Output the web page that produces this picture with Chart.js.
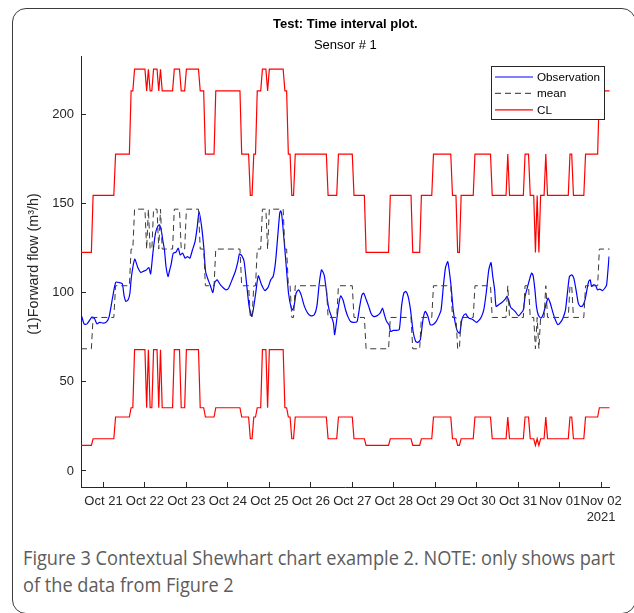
<!DOCTYPE html>
<html>
<head>
<meta charset="utf-8">
<style>
  body { margin:0; background:#fff; width:634px; height:613px; overflow:hidden; position:relative; }
  .frame { position:absolute; left:12px; top:8px; width:624px; height:606px; box-sizing:border-box; border:1px solid #3c3c3c; border-radius:14px; }
  #chart { position:absolute; left:0; top:0; }
  .caption { position:absolute; left:23px; font-family:"Open Sans", sans-serif; font-size:20px; line-height:27px; color:#5c5c5c; white-space:nowrap; transform-origin:0 0; }
</style>
</head>
<body>
<div class="frame"></div>
<canvas id="chart" width="634" height="530"></canvas>
<div class="caption" id="cap1" style="top:544px">Figure 3 Contextual Shewhart chart example 2. NOTE: only shows part</div>
<div class="caption" id="cap2" style="top:571px">of the data from Figure 2</div>

<script src="https://cdn.jsdelivr.net/npm/chart.js"></script>
<script>
    // x values are hours counted from Oct 20 00:00 (2021)
    const firstHour = 11;
    const lastHour = 317;
    const dayHours = [24, 48, 72, 96, 120, 144, 168, 192, 216, 240, 264, 288, 312];
    const dayLabels = ['Oct 21', 'Oct 22', 'Oct 23', 'Oct 24', 'Oct 25', 'Oct 26', 'Oct 27',
                       'Oct 28', 'Oct 29', 'Oct 30', 'Oct 31', 'Nov 01', ['Nov 02', '2021']];
    const yTicks = [0, 50, 100, 150, 200];

    // context levels: mean and control limits for each context
    const meanLevels = [68.6, 86.2, 104, 124.6, 147];
    const uclLevels  = [122.7, 154.7, 177.9, 213.4, 225.6];
    const lclLevels  = [14.4, 18.1, 30.3, 35.5, 68.1];

    // hour at which each context starts, and which context it is
    const ctxStart = [11, 18, 31, 40, 42, 49, 50, 51, 53, 56, 57, 58, 65, 69, 72, 80, 83, 89, 104, 109,
                      111, 113, 116, 119, 120, 129, 131, 133, 135, 154, 160, 169, 176, 190, 203, 208, 215,
                      226, 229, 231, 239, 249, 258, 259, 268, 271, 274, 275, 276, 277, 280, 281, 294, 296,
                      303, 311];
    const ctxLevel = [0, 1, 2, 3, 4, 3, 4, 3, 4, 3, 4, 3, 4, 3, 4, 3, 2, 3, 2, 1,
                      2, 3, 4, 3, 4, 3, 2, 1, 2, 1, 2, 1, 0, 1, 0, 1, 2,
                      1, 0, 1, 2, 1, 2, 1, 2, 1, 0, 1, 0, 1, 2, 1, 2, 1,
                      2, 3];

    // observation
    const obsHours = [11.3, 12.9, 14.5, 17.3, 18.7, 20.2, 21.7, 24.0, 25.9, 27.3, 29.4, 31.1, 33.2, 34.9, 36.0,
        37.0, 38.3, 39.3, 40.2, 42.1, 44.0, 45.6, 46.9, 48.8, 50.3, 51.3, 52.6, 54.1, 55.5, 56.4, 57.4, 58.3,
        59.3, 60.2, 61.4, 62.1, 63.1, 64.4, 65.9, 67.3, 68.4, 69.8, 71.3, 72.6, 74.0, 75.5, 77.0, 78.3, 79.3,
        80.8, 82.2, 83.1, 84.6, 86.0, 87.3, 88.4, 89.8, 91.7, 93.6, 94.9, 96.4, 98.4, 100.3, 101.8, 102.7,
        104.1, 105.4, 107.0, 108.3, 109.8, 110.7, 112.1, 113.6, 115.5, 117.4, 119.3, 120.8, 122.2, 123.5,
        124.7, 126.0, 126.6, 127.3, 128.5, 129.8, 131.1, 132.7, 133.6, 134.6, 135.5, 136.9, 138.4, 140.3,
        142.2, 144.1, 146.0, 147.5, 148.9, 150.2, 151.7, 152.7, 153.6, 154.6, 155.9, 157.1, 157.8, 159.0,
        160.3, 161.3, 162.6, 164.1, 165.4, 167.0, 168.9, 170.8, 172.3, 173.6, 174.6, 176.1, 177.5, 178.8,
        180.3, 182.2, 184.1, 185.5, 186.6, 187.9, 189.3, 190.2, 191.7, 193.3, 195.2, 196.5, 197.8, 199.0,
        200.3, 201.7, 203.2, 204.7, 206.0, 207.4, 208.9, 210.2, 211.8, 213.1, 214.6, 216.5, 218.0, 219.4,
        220.7, 221.9, 223.2, 223.8, 225.1, 226.4, 227.6, 228.9, 230.2, 231.4, 232.7, 233.7, 234.6, 235.6,
        237.1, 238.4, 239.8, 241.3, 242.8, 244.1, 245.5, 247.0, 248.3, 249.3, 250.4, 251.2, 252.7, 254.6,
        256.5, 257.5, 258.4, 259.6, 260.7, 262.2, 264.2, 265.7, 267.0, 268.0, 269.5, 270.8, 271.8, 272.7,
        273.7, 274.6, 275.6, 277.1, 278.4, 279.8, 281.3, 282.6, 284.2, 285.5, 287.0, 288.5, 289.9, 291.4,
        292.7, 293.7, 295.0, 296.2, 297.5, 298.8, 300.0, 301.3, 302.7, 303.8, 304.8, 305.7, 306.5, 307.6,
        308.9, 309.9, 311.2, 312.8, 314.1, 315.2, 316.6];
    const obsValues = [87.1, 82.4, 82.6, 86.4, 85.8, 82.6, 83.4, 83.0, 83.9, 86.7, 98.0, 106.0, 105.8, 105.1, 98.0,
        95.2, 96.1, 99.8, 109.2, 118.9, 113.9, 111.4, 112.0, 112.9, 114.2, 110.7, 122.3, 133.5, 137.6, 138.2, 135.4, 129.8,
        124.1, 114.8, 109.2, 112.0, 115.7, 122.3, 122.8, 125.1, 121.3, 122.3, 119.5, 120.4, 119.5, 124.1, 128.8, 137.2, 145.7,
        137.2, 124.1, 112.0, 107.3, 103.6, 100.2, 105.8, 107.3, 104.5, 102.6, 101.7, 102.6, 107.3, 112.0, 117.6, 121.9,
        120.8, 117.6, 103.6, 92.4, 86.8, 90.5, 99.8, 109.6, 104.5, 101.3, 103.2, 107.3, 109.2, 116.7,
        129.8, 144.7, 146.0, 142.9, 129.8, 114.8, 99.8, 91.4, 90.5, 94.2, 99.8, 101.7, 98.9, 92.4,
        88.6, 87.1, 87.7, 92.4, 105.4, 112.9, 110.1, 103.6, 96.1, 90.5, 86.8, 83.0, 76.5, 84.9,
        94.2, 98.3, 96.1, 90.5, 86.8, 83.9, 83.4, 83.9, 92.4, 98.9, 99.8, 96.1, 92.4, 88.6,
        86.8, 87.1, 88.6, 91.4, 87.7, 83.9, 82.1, 78.3, 78.9, 78.9, 79.3, 92.4, 99.8, 100.8,
        98.0, 90.5, 78.3, 72.7, 72.2, 73.7, 84.9, 89.6, 86.8, 82.1, 82.1, 83.9, 86.8, 90.5,
        103.6, 113.9, 117.6, 114.8, 104.5, 90.5, 83.0, 78.3, 77.4, 84.9, 87.7, 88.2, 86.8, 85.8,
        85.3, 84.5, 83.4, 84.5, 86.8, 90.5, 99.8, 112.9, 117.0, 109.2, 101.7, 92.4, 93.3, 94.6,
        96.5, 98.0, 96.1, 92.0, 90.9, 89.6, 87.1, 88.6, 90.5, 98.0, 103.6, 108.3, 111.1, 109.6,
        101.7, 92.4, 87.7, 85.8, 87.7, 92.4, 97.0, 94.2, 88.6, 84.9, 82.1, 83.4, 85.8, 90.5,
        101.7, 109.2, 110.1, 108.3, 101.7, 94.2, 92.4, 92.7, 96.1, 101.7, 106.4, 107.3, 103.6, 104.5,
        104.0, 101.7, 102.1, 101.3, 102.6, 104.5, 120.4];

    // expand the context table into step lines for one of the level lists
    function stepSeries(levels) {
        const pts = [];
        for (let i = 0; i < ctxStart.length; i++) {
            const a = ctxStart[i];
            const b = i + 1 < ctxStart.length ? ctxStart[i + 1] - 1 : lastHour;
            const v = levels[ctxLevel[i]];
            pts.push({x: a, y: v});
            if (b > a) pts.push({x: b, y: v});
        }
        return pts;
    }

    const axisColor = '#262626';
    const font = '"Liberation Sans", Arial, Helvetica, sans-serif';

    const legendItems = [
        {label: 'Observation', color: '#0000ff', dash: []},
        {label: 'mean', color: '#555555', dash: [6, 4]},
        {label: 'CL', color: '#ff0000', dash: []}
    ];

    const decorations = {
        id: 'decorations',
        afterDraw(chart) {
            const ctx = chart.ctx;
            const area = chart.chartArea;
            const cx = (area.left + area.right) / 2;
            ctx.save();
            ctx.fillStyle = '#000';
            ctx.textAlign = 'center';
            ctx.textBaseline = 'alphabetic';
            ctx.font = 'bold 13px ' + font;
            ctx.fillText('Test: Time interval plot.', cx, 28);
            ctx.font = '13px ' + font;
            ctx.fillText('Sensor # 1', cx, 49);

            // y axis title
            ctx.save();
            ctx.translate(38, 264);
            ctx.rotate(-Math.PI / 2);
            ctx.fillStyle = axisColor;
            ctx.font = '14.3px ' + font;
            ctx.fillText('(1)Forward flow (m³/h)', 0, 0);
            ctx.restore();

            // legend box
            const bx = 491, by = 66, bw = 113, bh = 53;
            ctx.fillStyle = '#fff';
            ctx.fillRect(bx, by, bw, bh);
            ctx.strokeStyle = axisColor;
            ctx.lineWidth = 1;
            ctx.strokeRect(bx + 0.5, by + 0.5, bw, bh);
            ctx.font = '11.7px ' + font;
            ctx.textAlign = 'left';
            ctx.textBaseline = 'middle';
            legendItems.forEach((it, i) => {
                const y = by + 11 + i * 16.4;
                ctx.strokeStyle = it.color;
                ctx.setLineDash(it.dash);
                ctx.lineWidth = 1.2;
                ctx.beginPath();
                ctx.moveTo(bx + 4, y);
                ctx.lineTo(bx + 42, y);
                ctx.stroke();
                ctx.setLineDash([]);
                ctx.fillStyle = '#000';
                ctx.fillText(it.label, bx + 46, y + 0.5);
            });
            ctx.restore();
        }
    };

    new Chart(document.getElementById('chart').getContext('2d'), {
        type: 'line',
        data: {
            datasets: [
                {
                    label: 'CL',
                    data: stepSeries(uclLevels),
                    borderColor: '#ff0000',
                    borderWidth: 1.2,
                    pointRadius: 0,
                    order: 0
                },
                {
                    label: 'CL lower',
                    data: stepSeries(lclLevels),
                    borderColor: '#ff0000',
                    borderWidth: 1.2,
                    pointRadius: 0,
                    order: 0
                },
                {
                    label: 'mean',
                    data: stepSeries(meanLevels),
                    borderColor: '#3a3a3a',
                    borderDash: [6, 4],
                    borderWidth: 1,
                    pointRadius: 0,
                    order: 1
                },
                {
                    label: 'Observation',
                    data: obsHours.map((h, i) => ({x: h, y: obsValues[i]})),
                    borderColor: '#0000ff',
                    borderWidth: 1.2,
                    pointRadius: 0,
                    tension: 0.2,
                    order: 2
                }
            ]
        },
        options: {
            responsive: false,
            animation: false,
            devicePixelRatio: 1,
            layout: { padding: { left: 0, right: 19, top: 56, bottom: 0 } },
            plugins: {
                legend: { display: false },
                tooltip: { enabled: false }
            },
            scales: {
                x: {
                    type: 'linear',
                    min: firstHour,
                    max: lastHour,
                    afterBuildTicks: (s) => { s.ticks = dayHours.map(v => ({value: v})); },
                    afterFit: (s) => { s.height = 43; },
                    ticks: {
                        autoSkip: false,
                        maxRotation: 0,
                        padding: 12,
                        color: axisColor,
                        font: { family: font, size: 13 },
                        callback: (v, i) => dayLabels[i]
                    },
                    grid: { drawOnChartArea: false, drawTicks: true, tickLength: -5, color: axisColor },
                    border: { display: true, color: axisColor, width: 1 }
                },
                y: {
                    min: -9,
                    max: 233,
                    afterBuildTicks: (s) => { s.ticks = yTicks.map(v => ({value: v})); },
                    afterFit: (s) => { s.width = 81; },
                    ticks: {
                        padding: 12,
                        color: axisColor,
                        font: { family: font, size: 13 }
                    },
                    grid: { drawOnChartArea: false, drawTicks: true, tickLength: -5, color: axisColor },
                    border: { display: true, color: axisColor, width: 1 }
                }
            }
        },
        plugins: [decorations]
    });

    // fit caption width to the reference
    const cap1 = document.getElementById('cap1');
    const cap2 = document.getElementById('cap2');
    const k = 592 / cap1.offsetWidth;
    cap1.style.transform = 'scaleX(' + k + ')';
    cap2.style.transform = 'scaleX(' + k + ')';
</script>
</body>
</html>
